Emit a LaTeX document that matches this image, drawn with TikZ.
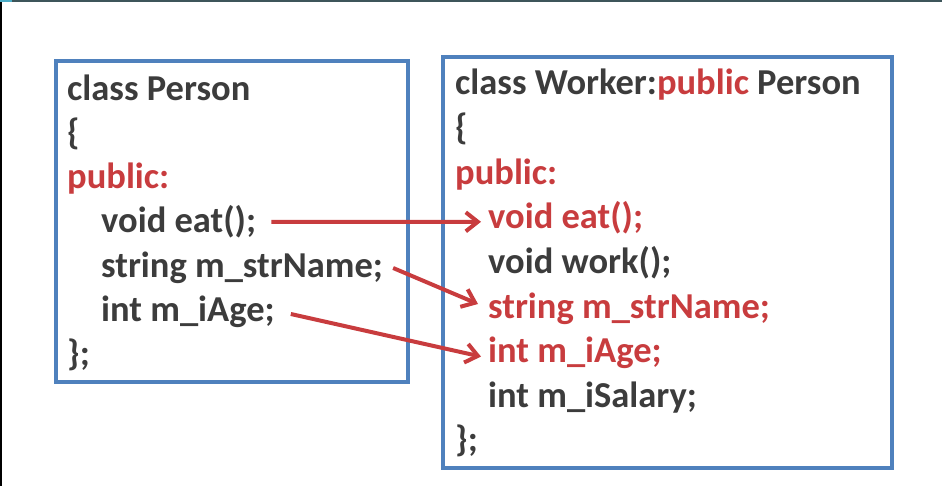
\documentclass[tikz,border=0pt]{standalone}
\usepackage{fontspec}
\setmainfont{Carlito}
\usetikzlibrary{arrows.meta}
\definecolor{codegray}{RGB}{60,60,60}
\definecolor{codered}{RGB}{200,60,62}
\definecolor{boxblue}{RGB}{79,129,189}

\begin{document}
\begin{tikzpicture}[x=1pt,y=-1pt,
    code/.style={anchor=base west,inner sep=0pt,text height=26pt,text depth=8pt,
      font=\fontsize{36.5}{44}\selectfont\bfseries,text=codegray},
    hot/.style={code,text=codered},
    frame/.style={draw=boxblue,line width=3.5pt},
    inherit/.style={draw=codered,line width=4pt,-{Straight Barb[length=12pt,width=19pt]}}]
    \useasboundingbox (0,0) rectangle (942,486);
    \fill[fill={rgb,255:red,61;green,85;blue,90}] (0,0) rectangle (942,2);
    \fill[fill={rgb,255:red,75;green,172;blue,198}] (0,0) rectangle (12,2);
    \fill[black] (0,2) rectangle (2,486);
    \draw[frame] (56,61) rectangle (408,382);
    \draw[frame] (443,57) rectangle (892,468);

    \node[code] (pClass) at (67,101) {class Person};
    \node[code] (pOpen) at (67,145) {\{};
    \node[hot] (pPublic) at (67,189) {public:};
    \node[code] (pEat) at (101,233) {void eat();};
    \node[code] (pName) at (101,277) {string m\_strName;};
    \node[code] (pAge) at (101,321) {int m\_iAge;};
    \node[code] (pClose) at (67,365) {\};};

    \node[code] (wClass) at (455,95) {class Worker:\textcolor{codered}{public} Person};
    \node[code] (wOpen) at (455,139.6) {\{};
    \node[hot] (wPublic) at (455,184.2) {public:};
    \node[hot] (wEat) at (488,228.8) {void eat();};
    \node[code] (wWork) at (488,273.4) {void work();};
    \node[hot] (wName) at (488,318) {string m\_strName;};
    \node[hot] (wAge) at (488,362.6) {int m\_iAge;};
    \node[code] (wSalary) at (488,407.2) {int m\_iSalary;};
    \node[code] (wClose) at (455,451.8) {\};};

    \draw[inherit] ([xshift=15pt,yshift=2pt]pEat.east) -- ([xshift=-7pt,yshift=-2pt]wEat.west);
    \draw[inherit] ([xshift=10pt]pName.east) -- ([xshift=-10pt,yshift=5pt]wName.west);
    \draw[inherit] ([xshift=16pt,yshift=-2pt]pAge.east) -- ([xshift=-7pt,yshift=-3pt]wAge.west);
\end{tikzpicture}
\end{document}
